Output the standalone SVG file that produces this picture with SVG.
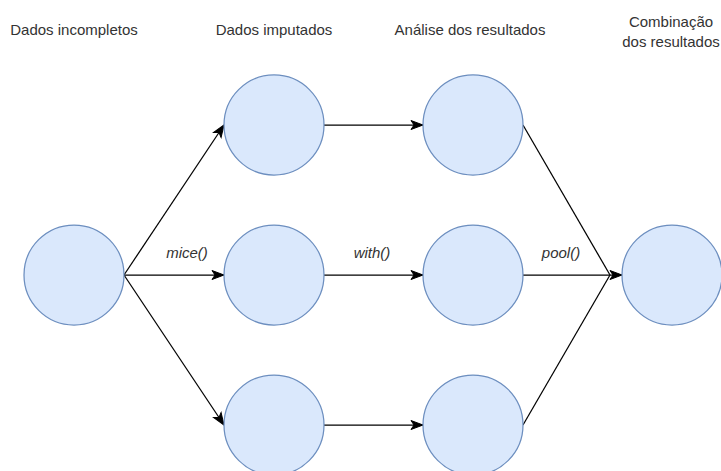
<svg xmlns="http://www.w3.org/2000/svg" width="721" height="471" viewBox="0 0 721 471">
  <style>
    .node { fill: #dae8fc; stroke: #6c8ebf; stroke-width: 1.25; }
    .edge { fill: none; stroke: #000; stroke-width: 1.25; }
    .title { font-family: "Liberation Sans", Arial, sans-serif; font-size: 15px; fill: #333; text-anchor: middle; }
    .fn { font-family: "Liberation Sans", Arial, sans-serif; font-size: 15px; font-style: italic; fill: #333; text-anchor: middle; }
  </style>
  <defs>
    <marker id="arrow" markerUnits="userSpaceOnUse" markerWidth="14" markerHeight="12" viewBox="0 0 14 12" refX="13" refY="6" orient="auto">
      <path d="M1,1.5 L13,6 L1,10.5 L4,6 Z" fill="#000" stroke="#000" stroke-width="1"/>
    </marker>
  </defs>

  <rect width="721" height="471" fill="#fff"/>

  <!-- column headings -->
  <g id="headings">
    <text class="title" x="74" y="35">Dados incompletos</text>
    <text class="title" x="274" y="35">Dados imputados</text>
    <text class="title" x="470" y="35">Análise dos resultados</text>
    <text class="title" x="671" y="27">Combinação</text>
    <text class="title" x="671" y="47">dos resultados</text>
  </g>

  <!-- connectors -->
  <g id="connectors">
    <line class="edge" x1="124" y1="275" x2="224" y2="125" marker-end="url(#arrow)"/>
    <line class="edge" x1="124" y1="275" x2="224" y2="275" marker-end="url(#arrow)"/>
    <line class="edge" x1="124" y1="275" x2="224" y2="425" marker-end="url(#arrow)"/>

    <line class="edge" x1="324" y1="125" x2="423" y2="125" marker-end="url(#arrow)"/>
    <line class="edge" x1="324" y1="275" x2="423" y2="275" marker-end="url(#arrow)"/>
    <line class="edge" x1="324" y1="425" x2="423" y2="425" marker-end="url(#arrow)"/>

    <line class="edge" x1="523" y1="125" x2="610" y2="275"/>
    <line class="edge" x1="523" y1="425" x2="610" y2="275"/>
    <line class="edge" x1="523" y1="275" x2="622" y2="275" marker-end="url(#arrow)"/>

    <text class="fn" x="187" y="258">mice()</text>
    <text class="fn" x="372" y="258">with()</text>
    <text class="fn" x="561" y="258">pool()</text>
  </g>

  <!-- nodes -->
  <g id="incomplete"><circle class="node" cx="74" cy="275" r="50"/></g>
  <g id="imputed-1"><circle class="node" cx="274" cy="125" r="50"/></g>
  <g id="imputed-2"><circle class="node" cx="274" cy="275" r="50"/></g>
  <g id="imputed-3"><circle class="node" cx="274" cy="425" r="50"/></g>
  <g id="analysis-1"><circle class="node" cx="473" cy="125" r="50"/></g>
  <g id="analysis-2"><circle class="node" cx="473" cy="275" r="50"/></g>
  <g id="analysis-3"><circle class="node" cx="473" cy="425" r="50"/></g>
  <g id="pooled"><circle class="node" cx="672" cy="275" r="50"/></g>
</svg>
